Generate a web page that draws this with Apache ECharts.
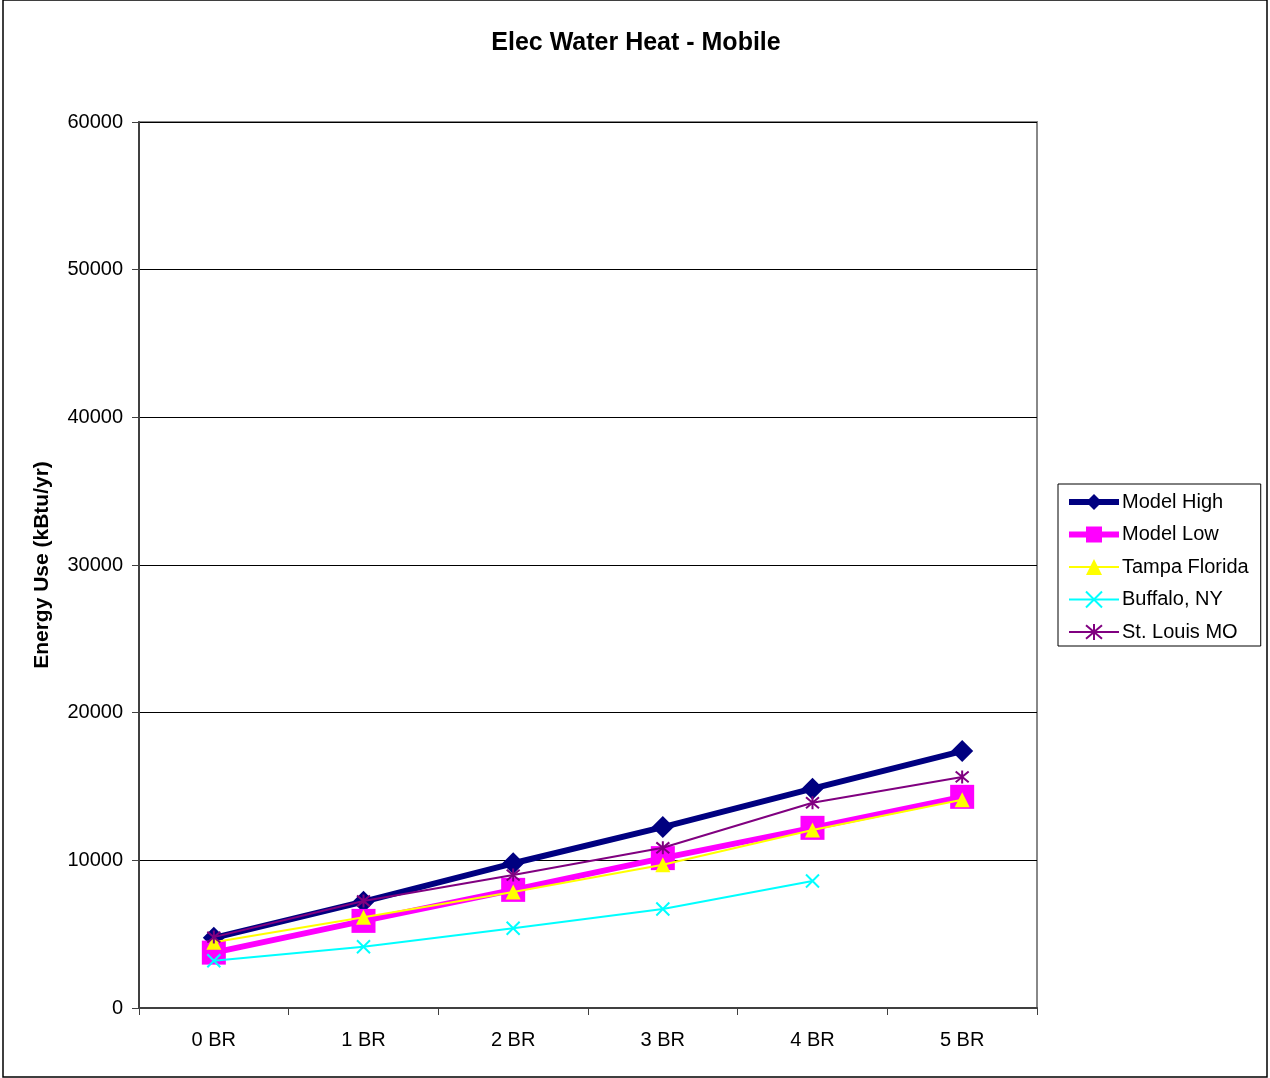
<!DOCTYPE html>
<html>
<head>
<meta charset="utf-8">
<script src="https://cdn.jsdelivr.net/npm/echarts@6/dist/echarts.min.js"></script>
<style>
  html, body { margin: 0; padding: 0; background: #fff; }
  #chart { width: 1270px; height: 1078px; }
</style>
</head>
<body>
<div id="chart"></div>
<script>
// data
var categories = ['0 BR', '1 BR', '2 BR', '3 BR', '4 BR', '5 BR'];
var modelHigh = [4750, 7200, 9800, 12250, 14850, 17400];
var modelLow = [3750, 5900, 8000, 10150, 12200, 14300];
var tampaFlorida = [4450, 6150, 7850, 9700, 12050, 14100];
var buffaloNY = [3200, 4150, 5400, 6700, 8600, null];
var stLouisMO = [4800, 7250, 9000, 10850, 13900, 15650];
var yTicks = [0, 10000, 20000, 30000, 40000, 50000, 60000];

var font = 'Liberation Sans, Arial, sans-serif';
var crossPath = 'path://M0,0L10,10M10,0L0,10';
var starPath = 'path://M0,0L10,10M10,0L0,10M5,-1L5,11';

var chart = echarts.init(document.getElementById('chart'));
var option = {
  animation: false,
  backgroundColor: '#fff',
  title: {
    text: 'Elec Water Heat - Mobile',
    left: 631,
    textAlign: 'center',
    top: 26,
    textStyle: { fontFamily: font, fontSize: 25, fontWeight: 'bold', color: '#000' }
  },
  grid: {
    left: 139, right: 233, top: 122, bottom: 70,
    show: true, borderColor: '#888', borderWidth: 2
  },
  legend: {
    orient: 'vertical',
    left: 1058, top: 484,
    width: 202,
    padding: [8, 12, 4, 8],
    itemGap: 12.5,
    itemWidth: 50,
    itemHeight: 20,
    borderColor: '#000',
    borderWidth: 1,
    textStyle: { fontFamily: font, fontSize: 20, color: '#000', padding: [0, 0, 0, -2] },
    data: [
      { name: 'Model High', lineStyle: { width: 6 } },
      { name: 'Model Low', lineStyle: { width: 6 } },
      { name: 'Tampa Florida' },
      { name: 'Buffalo, NY' },
      { name: 'St. Louis MO' }
    ]
  },
  xAxis: {
    type: 'category',
    data: categories,
    boundaryGap: true,
    axisLine: { lineStyle: { color: '#404040', width: 2 } },
    axisTick: { show: true, length: 7, lineStyle: { color: '#404040', width: 1 } },
    axisLabel: { fontFamily: font, fontSize: 20, color: '#000', margin: 22 },
    splitLine: { show: false }
  },
  yAxis: {
    type: 'value',
    min: yTicks[0],
    max: yTicks[yTicks.length - 1],
    interval: 10000,
    name: 'Energy Use (kBtu/yr)',
    nameLocation: 'middle',
    nameGap: 86,
    nameTextStyle: { fontFamily: font, fontSize: 21, fontWeight: 'bold', color: '#000' },
    axisLine: { show: true, lineStyle: { color: '#404040', width: 2 } },
    axisTick: { show: true, length: 7, lineStyle: { color: '#404040' } },
    axisLabel: {
      fontFamily: font, fontSize: 20, color: '#000', margin: 16,
      formatter: function (v) { return String(v); }
    },
    splitLine: { lineStyle: { color: '#000', width: 1 } }
  },
  graphic: [{
    type: 'rect',
    shape: { x: 3, y: 0, width: 1264, height: 1077 },
    style: { fill: 'none', stroke: '#000', lineWidth: 1.5 },
    z: -1
  }],
  series: [
    {
      name: 'Tampa Florida', type: 'line', data: tampaFlorida, z: 3,
      symbol: 'triangle', symbolSize: 15,
      lineStyle: { color: '#ffff00', width: 2 },
      itemStyle: { color: '#ffff00' }
    },
    {
      name: 'Buffalo, NY', type: 'line', data: buffaloNY, z: 3,
      symbol: crossPath, symbolSize: 13,
      lineStyle: { color: '#00ffff', width: 2 },
      itemStyle: { color: '#00ffff', borderColor: '#00ffff', borderWidth: 2 }
    },
    {
      name: 'Model Low', type: 'line', data: modelLow, z: 2,
      symbol: 'rect', symbolSize: 24,
      lineStyle: { color: '#ff00ff', width: 6 },
      itemStyle: { color: '#ff00ff' }
    },
    {
      name: 'St. Louis MO', type: 'line', data: stLouisMO, z: 4,
      symbol: starPath, symbolSize: 13,
      lineStyle: { color: '#800080', width: 2 },
      itemStyle: { color: '#800080', borderColor: '#800080', borderWidth: 2 }
    },
    {
      name: 'Model High', type: 'line', data: modelHigh, z: 1,
      symbol: 'diamond', symbolSize: 22,
      lineStyle: { color: '#000080', width: 6 },
      itemStyle: { color: '#000080' }
    }
  ]
};
chart.setOption(option);
</script>
</body>
</html>
